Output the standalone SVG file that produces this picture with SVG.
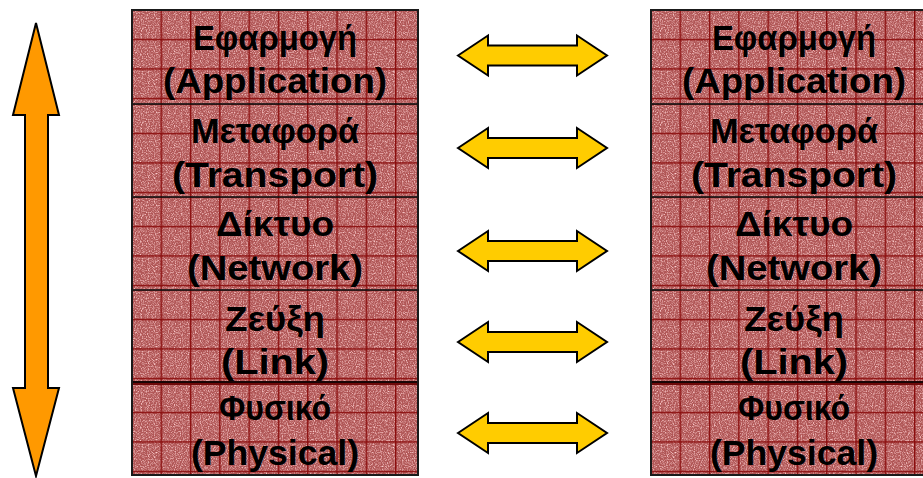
<svg xmlns="http://www.w3.org/2000/svg" xmlns:xlink="http://www.w3.org/1999/xlink" width="923" height="478" viewBox="0 0 923 478">
  <defs>
    <style>
      .base { fill: #b05656; }
      .grain { fill: #000; filter: url(#grain); }
      .grid { fill: url(#gridTile); }
      .label { font-family: "Liberation Sans", Arial, sans-serif; font-weight: bold; font-size: 35px; fill: #000; text-anchor: middle; }
      .divider { fill: #111; }
      .frame { fill: none; stroke: #1a1a1a; stroke-width: 2; }
      .peer { fill: #ffcc00; stroke: #000; stroke-width: 2; stroke-linejoin: miter; }
      .stack-arrow { fill: #ff9900; stroke: #000; stroke-width: 2; stroke-linejoin: miter; }
    </style>
    <!-- speckled texture of the layer boxes -->
    <filter id="grain" x="0" y="0" width="1" height="1" color-interpolation-filters="sRGB">
      <feTurbulence type="fractalNoise" baseFrequency="0.85" numOctaves="2" seed="3" result="n"/>
      <feColorMatrix in="n" type="matrix" values="0 0 0 0 1  0 0 0 0 0.82  0 0 0 0 0.82  2.2 0 0 0 -0.95"/>
    </filter>
    <!-- dark red grid drawn inside each layer -->
    <pattern id="gridTile" patternUnits="userSpaceOnUse" x="-0.7" y="-0.7" width="29.3" height="29.5">
      <rect x="0" y="0" width="1.4" height="29.5" fill="#8a0c0c"/>
      <rect x="0" y="0" width="29.3" height="1.4" fill="#8a0c0c"/>
    </pattern>
    <path id="peerArrow" d="M458,0 L488,-20 L488,-10 L577,-10 L577,-20 L607,0 L577,20 L577,10 L488,10 L488,20 Z"/>
  </defs>

  <rect width="923" height="478" fill="#fff"/>

  <!-- vertical arrow beside the left stack -->
  <g id="stack-direction">
    <polygon class="stack-arrow" points="36,23 59,115 48,115 48,388 59,388 36,476 13,388 25,388 25,115 13,115"/>
  </g>

  <!-- left protocol stack -->
  <g id="left-application" transform="translate(132,10)">
    <rect class="base" width="286" height="94"/>
    <rect class="grain" width="286" height="94"/>
    <rect class="grid" width="286" height="94"/>
    <text class="label" x="143" y="40" textLength="164" lengthAdjust="spacingAndGlyphs">Εφαρμογή</text>
    <text class="label" x="143" y="83" textLength="224" lengthAdjust="spacingAndGlyphs">(Application)</text>
  </g>
  <g id="left-transport" transform="translate(132,104)">
    <rect class="base" width="286" height="93"/>
    <rect class="grain" width="286" height="93"/>
    <rect class="grid" width="286" height="93"/>
    <rect class="divider" x="0" y="-0.8" width="286" height="1.6"/>
    <text class="label" x="143" y="39" textLength="168" lengthAdjust="spacingAndGlyphs">Μεταφορά</text>
    <text class="label" x="143" y="83" textLength="206" lengthAdjust="spacingAndGlyphs">(Transport)</text>
  </g>
  <g id="left-network" transform="translate(132,197)">
    <rect class="base" width="286" height="93"/>
    <rect class="grain" width="286" height="93"/>
    <rect class="grid" width="286" height="93"/>
    <rect class="divider" x="0" y="-0.8" width="286" height="1.6"/>
    <text class="label" x="143" y="39" textLength="118" lengthAdjust="spacingAndGlyphs">Δίκτυο</text>
    <text class="label" x="143" y="83" textLength="176" lengthAdjust="spacingAndGlyphs">(Network)</text>
  </g>
  <g id="left-link" transform="translate(132,290)">
    <rect class="base" width="286" height="93"/>
    <rect class="grain" width="286" height="93"/>
    <rect class="grid" width="286" height="93"/>
    <rect class="divider" x="0" y="-0.8" width="286" height="1.6"/>
    <text class="label" x="143" y="41" textLength="100" lengthAdjust="spacingAndGlyphs">Ζεύξη</text>
    <text class="label" x="143" y="84" textLength="108" lengthAdjust="spacingAndGlyphs">(Link)</text>
  </g>
  <g id="left-physical" transform="translate(132,383)">
    <rect class="base" width="286" height="92"/>
    <rect class="grain" width="286" height="92"/>
    <rect class="grid" width="286" height="92"/>
    <rect x="0" y="-2" width="286" height="2" fill="#1a0505"/>
    <rect x="0" y="0" width="286" height="2" fill="#6e0a0a"/>
    <text class="label" x="143" y="37" textLength="112" lengthAdjust="spacingAndGlyphs">Φυσικό</text>
    <text class="label" x="143" y="82" textLength="168" lengthAdjust="spacingAndGlyphs">(Physical)</text>
  </g>
  <rect class="frame" x="132" y="10" width="286" height="465"/>

  <!-- right protocol stack -->
  <g id="right-application" transform="translate(651,10)">
    <rect class="base" width="286" height="94"/>
    <rect class="grain" width="286" height="94"/>
    <rect class="grid" width="286" height="94"/>
    <text class="label" x="143" y="40" textLength="164" lengthAdjust="spacingAndGlyphs">Εφαρμογή</text>
    <text class="label" x="143" y="83" textLength="224" lengthAdjust="spacingAndGlyphs">(Application)</text>
  </g>
  <g id="right-transport" transform="translate(651,104)">
    <rect class="base" width="286" height="93"/>
    <rect class="grain" width="286" height="93"/>
    <rect class="grid" width="286" height="93"/>
    <rect class="divider" x="0" y="-0.8" width="286" height="1.6"/>
    <text class="label" x="143" y="39" textLength="168" lengthAdjust="spacingAndGlyphs">Μεταφορά</text>
    <text class="label" x="143" y="83" textLength="206" lengthAdjust="spacingAndGlyphs">(Transport)</text>
  </g>
  <g id="right-network" transform="translate(651,197)">
    <rect class="base" width="286" height="93"/>
    <rect class="grain" width="286" height="93"/>
    <rect class="grid" width="286" height="93"/>
    <rect class="divider" x="0" y="-0.8" width="286" height="1.6"/>
    <text class="label" x="143" y="39" textLength="118" lengthAdjust="spacingAndGlyphs">Δίκτυο</text>
    <text class="label" x="143" y="83" textLength="176" lengthAdjust="spacingAndGlyphs">(Network)</text>
  </g>
  <g id="right-link" transform="translate(651,290)">
    <rect class="base" width="286" height="93"/>
    <rect class="grain" width="286" height="93"/>
    <rect class="grid" width="286" height="93"/>
    <rect class="divider" x="0" y="-0.8" width="286" height="1.6"/>
    <text class="label" x="143" y="41" textLength="100" lengthAdjust="spacingAndGlyphs">Ζεύξη</text>
    <text class="label" x="143" y="84" textLength="108" lengthAdjust="spacingAndGlyphs">(Link)</text>
  </g>
  <g id="right-physical" transform="translate(651,383)">
    <rect class="base" width="286" height="92"/>
    <rect class="grain" width="286" height="92"/>
    <rect class="grid" width="286" height="92"/>
    <rect x="0" y="-2" width="286" height="2" fill="#1a0505"/>
    <rect x="0" y="0" width="286" height="2" fill="#6e0a0a"/>
    <text class="label" x="143" y="37" textLength="112" lengthAdjust="spacingAndGlyphs">Φυσικό</text>
    <text class="label" x="143" y="82" textLength="168" lengthAdjust="spacingAndGlyphs">(Physical)</text>
  </g>
  <rect class="frame" x="651" y="10" width="286" height="465"/>

  <!-- peer-to-peer arrows between matching layers -->
  <g id="connectors">
    <use class="peer" xlink:href="#peerArrow" href="#peerArrow" y="55.5"/>
    <use class="peer" xlink:href="#peerArrow" href="#peerArrow" y="148"/>
    <use class="peer" xlink:href="#peerArrow" href="#peerArrow" y="251"/>
    <use class="peer" xlink:href="#peerArrow" href="#peerArrow" y="342"/>
    <use class="peer" xlink:href="#peerArrow" href="#peerArrow" y="433"/>
  </g>
</svg>
